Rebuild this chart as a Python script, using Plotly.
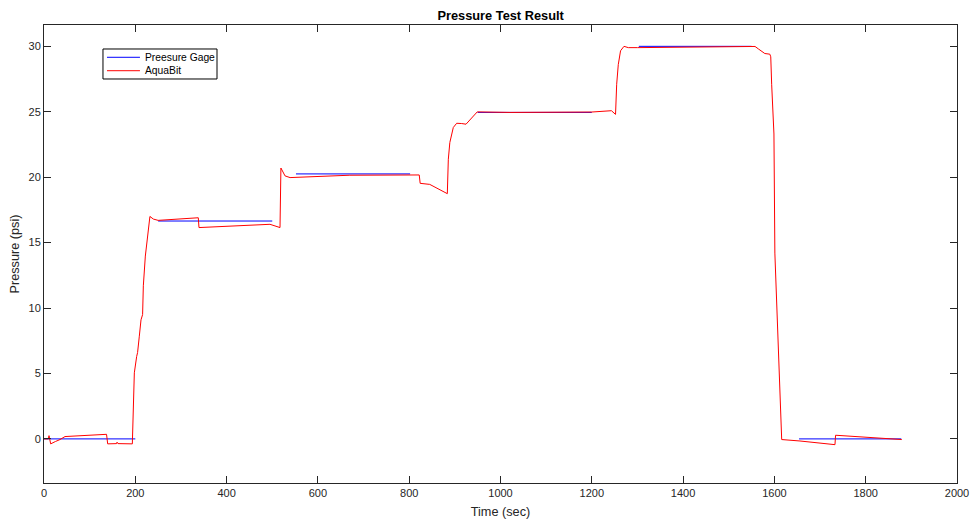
import plotly.graph_objects as go

# Pressure gage reference readings (segments separated by None)
gage_time = [0, 200, None, 250, 500, None, 552, 802, None, 950, 1200, None, 1303, 1550, None, 1654, 1878]
gage_pressure = [0, 0, None, 16.65, 16.65, None, 20.25, 20.25, None, 24.95, 24.95, None, 30.0, 30.0, None, 0, 0]

# AquaBit sensor trace
aqua_time = [0, 9.5, 11, 14.6, 25, 35, 46, 90, 137, 139.5, 159, 160, 162, 193.5,
             195.7, 197.9, 203, 205, 208.8, 212.5, 216, 217.6, 222, 224, 228.5, 232,
             239.5, 250, 338, 339.5, 495, 506, 517, 519, 528, 539, 670, 822, 824, 845,
             883.5, 885.7, 889, 896.6, 904, 915, 924.5, 949, 1021, 1200, 1243, 1252,
             1254.5, 1258, 1263, 1270.5, 1280, 1300, 1557.6, 1565, 1579, 1590, 1592,
             1594, 1599, 1601, 1608.5, 1616, 1656, 1732.7, 1734, 1879]
aqua_pressure = [0, 0, 0.25, -0.38, -0.2, -0.05, 0.18, 0.28, 0.35, -0.38, -0.36, -0.25, -0.36, -0.38,
                 2.5, 5.05, 6.3, 6.6, 7.85, 9.1, 9.5, 11.7, 13.97, 14.5, 16.0, 17.0,
                 16.8, 16.7, 16.9, 16.15, 16.4, 16.3, 16.15, 20.7, 20.1, 19.97, 20.15, 20.17, 19.53, 19.45,
                 18.74, 21.37, 22.65, 23.8, 24.12, 24.1, 24.05, 24.99, 24.95, 24.98, 25.08, 24.8,
                 27.1, 28.6, 29.66, 30.0, 29.9, 29.9, 29.99, 29.8, 29.45, 29.4, 29.2,
                 27.1, 23.3, 14.2, 6.6, -0.05, -0.16, -0.44, 0.28, -0.05]

x_ticks = [0, 200, 400, 600, 800, 1000, 1200, 1400, 1600, 1800, 2000]
y_ticks = [0, 5, 10, 15, 20, 25, 30]

series_names = ["Preesure Gage", "AquaBit"]
series_colors = ["#0000ff", "#ff0000"]

AX = "#262626"
FONT = "Liberation Sans, Arial, Helvetica, sans-serif"

fig = go.Figure()
fig.add_trace(go.Scatter(x=gage_time, y=gage_pressure, mode="lines", name=series_names[0],
                         line=dict(color=series_colors[0], width=1), connectgaps=False))
fig.add_trace(go.Scatter(x=aqua_time, y=aqua_pressure, mode="lines", name=series_names[1],
                         line=dict(color=series_colors[1], width=1)))

axis_common = dict(showline=True, linecolor=AX, linewidth=1, mirror="ticks",
                   ticks="inside", ticklen=7, tickcolor=AX, tickwidth=1,
                   showgrid=False, zeroline=False, automargin=False,
                   tickfont=dict(family=FONT, size=11, color=AX))

# Compact MATLAB-style legend box (plot-area paper coordinates)
box_x0, box_x1, box_y0, box_y1 = 0.0646, 0.1895, 0.8821, 0.9476
line_x0, line_x1, text_x = 0.069, 0.1051, 0.1084
row_y = [0.9295, 0.9002]
shapes = [dict(type="rect", xref="paper", yref="paper", x0=box_x0, x1=box_x1, y0=box_y0, y1=box_y1,
               line=dict(color="black", width=1), fillcolor="white", layer="above")]
annotations = []
for name, color, yy in zip(series_names, series_colors, row_y):
    shapes.append(dict(type="line", xref="paper", yref="paper", x0=line_x0, x1=line_x1, y0=yy, y1=yy,
                       line=dict(color=color, width=1), layer="above"))
    annotations.append(dict(xref="paper", yref="paper", x=text_x, y=yy, xanchor="left", yanchor="middle",
                            text=name, showarrow=False,
                            font=dict(family=FONT, size=10.3, color="black")))

fig.update_layout(
    width=974, height=523,
    paper_bgcolor="white", plot_bgcolor="white",
    margin=dict(l=44, r=17, t=25, b=40),
    title=dict(text="<b>Pressure Test Result</b>", x=0.514, xanchor="center", y=0.971, yanchor="middle",
               font=dict(family=FONT, size=12.8, color="black")),
    xaxis=dict(range=[0, 2000], tickvals=x_ticks,
               title=dict(text="Time (sec)", font=dict(family=FONT, size=12.7, color=AX), standoff=8),
               **axis_common),
    yaxis=dict(range=[-3.37, 31.63], tickvals=y_ticks,
               title=dict(text="Pressure (psi)", font=dict(family=FONT, size=12.7, color=AX), standoff=6),
               **axis_common),
    showlegend=False,
    shapes=shapes,
    annotations=annotations,
)

fig.write_html("out.html", config={"displayModeBar": False},
               post_script="document.body.style.margin='0';document.body.style.padding='0';")
